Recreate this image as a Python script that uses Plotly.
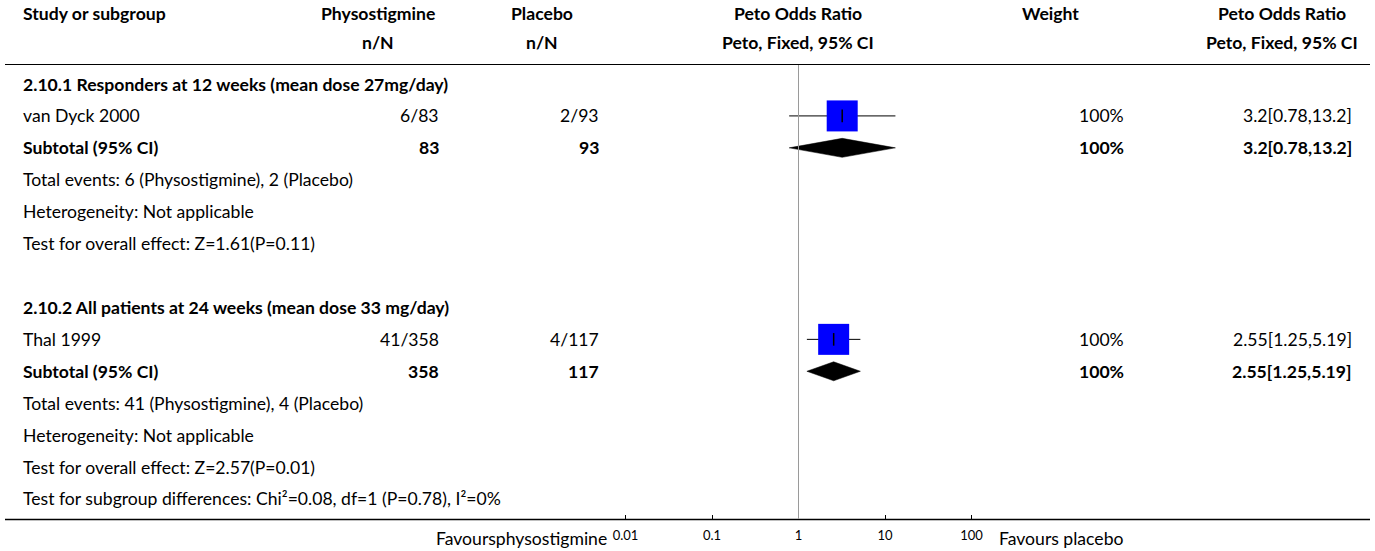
import plotly.graph_objects as go

W, H = 1375, 551
FONT = "Lato"
FS = 17.6

# ---------------- data ----------------
subgroups = ["2.10.1 Responders at 12 weeks (mean dose 27mg/day)",
             "2.10.2 All patients at 24 weeks (mean dose 33 mg/day)"]
studies = ["van Dyck 2000", "Thal 1999"]
phys_events = [6, 41]
phys_total = [83, 358]
plac_events = [2, 4]
plac_total = [93, 117]
or_est = [3.2, 2.55]
ci_lo = [0.78, 1.25]
ci_hi = [13.2, 5.19]
weight = ["100%", "100%"]
or_text = ["3.2[0.78,13.2]", "2.55[1.25,5.19]"]
heterogeneity = ["Heterogeneity: Not applicable", "Heterogeneity: Not applicable"]
overall = ["Test for overall effect: Z=1.61(P=0.11)", "Test for overall effect: Z=2.57(P=0.01)"]
subgroup_test = "Test for subgroup differences: Chi\u00b2=0.08, df=1 (P=0.78), I\u00b2=0%"
tick_vals = [0.01, 0.1, 1, 10, 100]
tick_text = ["0.01", "0.1", "1", "10", "100"]
fav_left = "Favoursphysostigmine"
fav_right = "Favours placebo"

# ---------------- layout helpers ----------------
ROW_PX = 31.92
ROW0_PX = 84.0
def px_to_row(p):
    return (p - ROW0_PX) / ROW_PX
X1_PX, DEC_PX = 798.5, 86.5

fig = go.Figure()
ann = []
def txt(xpx, row, s, anchor="left", bold=False, size=FS):
    ann.append(dict(x=xpx / W, y=row, xref="paper", yref="y", text=("<b>%s</b>" % s) if bold else s,
                    showarrow=False, xanchor=anchor, yanchor="middle", borderpad=0,
                    font=dict(family=FONT, size=size, color="#000")))

# headers
hr1, hr2 = px_to_row(13), px_to_row(42)
txt(22, hr1, "Study or subgroup", bold=True)
txt(378, hr1, "Physostigmine", "center", True)
txt(378, hr2, "n/N", "center", True)
txt(542, hr1, "Placebo", "center", True)
txt(542, hr2, "n/N", "center", True)
txt(798, hr1, "Peto Odds Ratio", "center", True)
txt(798, hr2, "Peto, Fixed, 95% CI", "center", True)
txt(1050, hr1, "Weight", "center", True)
txt(1282, hr1, "Peto Odds Ratio", "center", True)
txt(1282, hr2, "Peto, Fixed, 95% CI", "center", True)

row = 0
for i in range(len(studies)):
    txt(22, row, subgroups[i], bold=True)
    r_study = row + 1
    txt(22, r_study, studies[i])
    txt(440, r_study, "%d/%d" % (phys_events[i], phys_total[i]), "right")
    txt(600, r_study, "%d/%d" % (plac_events[i], plac_total[i]), "right")
    txt(1125, r_study, weight[i], "right")
    txt(1353, r_study, or_text[i], "right")
    r_sub = row + 2
    txt(22, r_sub, "Subtotal (95% CI)", bold=True)
    txt(440, r_sub, str(phys_total[i]), "right", True)
    txt(600, r_sub, str(plac_total[i]), "right", True)
    txt(1125, r_sub, weight[i], "right", True)
    txt(1353, r_sub, or_text[i], "right", True)
    txt(22, row + 3, "Total events: %d (Physostigmine), %d (Placebo)" % (phys_events[i], plac_events[i]))
    txt(22, row + 4, heterogeneity[i])
    txt(22, row + 5, overall[i])

    # CI line
    fig.add_trace(go.Scatter(x=[ci_lo[i], ci_hi[i]], y=[r_study, r_study], mode="lines",
                             line=dict(color="black", width=1), hoverinfo="skip", showlegend=False))
    # square
    fig.add_trace(go.Scatter(x=[or_est[i]], y=[r_study], mode="markers",
                             marker=dict(symbol="square", size=31, color="#0000FF", line=dict(width=0)),
                             showlegend=False, hoverinfo="skip"))
    # center tick
    fig.add_trace(go.Scatter(x=[or_est[i]], y=[r_study], mode="markers",
                             marker=dict(symbol="line-ns-open", size=9, color="black",
                                         line=dict(color="black", width=1.5)),
                             showlegend=False, hoverinfo="skip"))
    # diamond
    h = 9.5 / ROW_PX
    fig.add_trace(go.Scatter(x=[ci_lo[i], or_est[i], ci_hi[i], or_est[i], ci_lo[i]],
                             y=[r_sub, r_sub - h, r_sub, r_sub + h, r_sub], mode="lines",
                             fill="toself", fillcolor="black", line=dict(color="black", width=0.5),
                             showlegend=False, hoverinfo="skip"))
    row += 7

txt(22, 13, subgroup_test)
txt(608, px_to_row(538), fav_left, "right")
txt(998, px_to_row(538), fav_right, "left")

shapes = [
    dict(type="line", xref="paper", yref="y", x0=5 / W, x1=1370 / W, y0=px_to_row(64.5), y1=px_to_row(64.5),
         line=dict(color="black", width=1)),
    dict(type="line", xref="paper", yref="y", x0=5 / W, x1=1370 / W, y0=px_to_row(519.5), y1=px_to_row(519.5),
         line=dict(color="black", width=1.3)),
    dict(type="line", xref="x", yref="y", x0=1, x1=1, y0=px_to_row(65), y1=px_to_row(519),
         line=dict(color="#9a9a9a", width=1)),
]

xr = [-X1_PX / DEC_PX, (W - X1_PX) / DEC_PX]
fig.update_layout(
    width=W, height=H, margin=dict(l=0, r=0, t=0, b=0),
    plot_bgcolor="white", paper_bgcolor="white",
    annotations=ann, shapes=shapes, showlegend=False,
    xaxis=dict(type="log", range=xr, domain=[0, 1], anchor="free", position=1 - 519.5 / H,
               showgrid=False, zeroline=False, showline=False,
               tickmode="array", tickvals=tick_vals, ticktext=tick_text,
               ticks="inside", ticklen=5, tickcolor="black", tickwidth=1,
               tickfont=dict(family=FONT, size=13, color="#000"), ticklabelstandoff=6),
    yaxis=dict(range=[px_to_row(H), px_to_row(0)], domain=[0, 1], showgrid=False, zeroline=False,
               showticklabels=False, showline=False, ticks=""),
)
fig.write_html("out.html")
